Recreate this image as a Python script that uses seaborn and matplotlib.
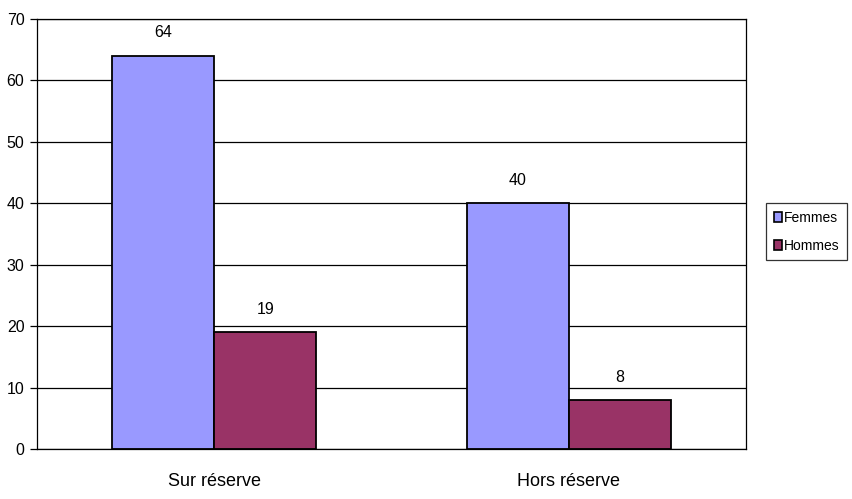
import matplotlib
matplotlib.use("Agg")
import matplotlib.pyplot as plt
import seaborn as sns
import pandas as pd

categories = ["Sur réserve", "Hors réserve"]
series = ["Femmes", "Hommes"]
femmes = [64, 40]
hommes = [19, 8]
colors = ["#9999FF", "#993366"]
yticks = [0, 10, 20, 30, 40, 50, 60, 70]

df = pd.DataFrame({
    "lieu": categories * 2,
    "sexe": [series[0]] * len(categories) + [series[1]] * len(categories),
    "valeur": femmes + hommes,
})

sns.set_style("white")
plt.rcParams["font.family"] = ["Liberation Sans", "DejaVu Sans"]
plt.rcParams.update({"text.color": "black", "xtick.color": "black",
                     "ytick.color": "black", "axes.labelcolor": "black"})

fig = plt.figure(figsize=(8.52, 4.99), dpi=100)
ax = fig.add_axes([0.0434, 0.1002, 0.832, 0.862])

sns.barplot(data=df, x="lieu", y="valeur", hue="sexe", order=categories,
            hue_order=series, palette=colors, width=0.575, edgecolor="black",
            linewidth=1.3, saturation=1, ax=ax, errorbar=None, legend=True)

ax.set_ylim(0, 70)
ax.set_xlim(-0.5, 1.5)
ax.set_yticks(yticks)
ax.set_yticklabels([str(t) for t in yticks], fontsize=11.5)
ax.yaxis.grid(True, color="black", linewidth=0.9)
ax.set_axisbelow(True)
ax.tick_params(axis="y", which="both", left=True, length=5, width=0.9, pad=4,
               color="black", labelcolor="black")
ax.tick_params(axis="x", bottom=False, labelsize=13, pad=14, labelcolor="black")
ax.set_xlabel("")
ax.set_ylabel("")
for s in ax.spines.values():
    s.set_visible(True)
    s.set_color("black")
    s.set_linewidth(0.9)

for cont in ax.containers:
    ax.bar_label(cont, labels=[f"{v:g}" for v in cont.datavalues], padding=11,
                 fontsize=11.5, color="black")

handles, labels = ax.get_legend_handles_labels()
ax.legend_.remove()
leg = fig.legend(handles, labels, loc="upper left", bbox_to_anchor=(766 / 852, 1 - 203 / 499),
                 frameon=True, fancybox=False, edgecolor="black", fontsize=10,
                 handlelength=0.6, handleheight=0.75, handletextpad=0.15,
                 borderpad=0.55, labelspacing=1.0, borderaxespad=0)
leg.get_frame().set_linewidth(0.9)
for h in leg.legend_handles:
    h.set_edgecolor("black")
    h.set_linewidth(1.2)
for t in leg.get_texts():
    t.set_color("black")

fig.savefig("out.png", dpi=100, facecolor="white")
